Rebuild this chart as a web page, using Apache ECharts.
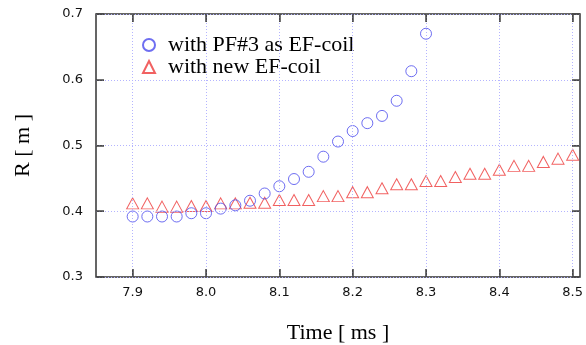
<!DOCTYPE html>
<html>
<head>
<meta charset="utf-8">
<script src="https://cdn.jsdelivr.net/npm/echarts@6/dist/echarts.min.js"></script>
<style>html,body{margin:0;padding:0;background:#fff;}#c{width:586px;height:345px;}</style>
</head>
<body>
<div id="c"></div>
<script>
const timesCircle = [7.90,7.92,7.94,7.96,7.98,8.00,8.02,8.04,8.06,8.08,8.10,8.12,8.14,8.16,8.18,8.20,8.22,8.24,8.26,8.28,8.30];
const rCircle = [0.392,0.392,0.392,0.392,0.397,0.397,0.404,0.409,0.416,0.427,0.438,0.449,0.460,0.483,0.506,0.522,0.534,0.545,0.568,0.613,0.670];
const timesTri = [7.90,7.92,7.94,7.96,7.98,8.00,8.02,8.04,8.06,8.08,8.10,8.12,8.14,8.16,8.18,8.20,8.22,8.24,8.26,8.28,8.30,8.32,8.34,8.36,8.38,8.40,8.42,8.44,8.46,8.48,8.50];
const rTri = [0.412,0.412,0.407,0.407,0.408,0.408,0.412,0.412,0.413,0.413,0.417,0.417,0.417,0.423,0.423,0.429,0.429,0.435,0.441,0.441,0.446,0.446,0.452,0.457,0.457,0.463,0.469,0.469,0.475,0.480,0.486];
const xTicks = [7.9,8.0,8.1,8.2,8.3,8.4,8.5];
const seriesNames = ['with PF#3 as EF-coil','with new EF-coil'];
const xTitle = 'Time [ ms ]';
const yTitle = 'R [ m ]';

const frame = '#444444';
const gridColor = 'rgb(180,180,255)';
const chart = echarts.init(document.getElementById('c'), null, {renderer:'canvas'});
function axTick(custom){ const t = {show:true, inside:true, length:8, lineStyle:{color:frame, width:1.5}}; if (custom) t.customValues = xTicks.slice(); return t; }
function plainTick(custom){ const t = {show:true, inside:true, length:8}; if (custom) t.customValues = xTicks.slice(); return t; }
function split(){ return {show:true, lineStyle:{color:gridColor, type:[1,2], width:1}}; }
const X = {min:7.85, max:8.51};
const Y = {min:0.3, max:0.7, interval:0.1};
function extraX(pos){ return {type:'value', min:X.min, max:X.max, position:pos, z:1, axisLine:{show:false}, axisTick:plainTick(true), axisLabel:{show:false, customValues:xTicks.slice()}, splitLine:{show:false}}; }
function extraY(pos){ return {type:'value', min:Y.min, max:Y.max, interval:Y.interval, position:pos, z:1, axisLine:{show:false}, axisTick:plainTick(false), axisLabel:{show:false}, splitLine:{show:false}}; }

chart.setOption({
  animation:false,
  backgroundColor:'#ffffff',
  grid:{left:96, right:6, top:14, bottom:68, containLabel:false, outerBoundsMode:'none',
        show:true, borderColor:'#333333', borderWidth:1.5, backgroundColor:'transparent'},
  legend:{
    orient:'vertical', left:137, top:29, itemWidth:12, itemHeight:12, itemGap:0,
    data:seriesNames,
    textStyle:{fontFamily:'Liberation Serif', fontSize:22, lineHeight:21, color:'#000000', padding:[0,0,0,8]}
  },
  xAxis:[
    {
      type:'value', min:X.min, max:X.max, position:'bottom', z:5,
      axisLine:{show:false}, axisTick:axTick(true),
      name:xTitle, nameLocation:'middle', nameGap:45,
      nameTextStyle:{fontFamily:'Liberation Serif', fontSize:22, color:'#000000'},
      axisLabel:{show:true, customValues:xTicks.slice(), margin:9, fontFamily:'DejaVu Sans', fontSize:13, color:'#111111', formatter:v=>v.toFixed(1)},
      splitLine:split()
    },
    {
      type:'value', min:X.min, max:X.max, position:'top', z:5,
      axisLine:{show:false}, axisTick:axTick(true), axisLabel:{show:false, customValues:xTicks.slice()}, splitLine:{show:false}
    },
    extraX('bottom'),
    extraX('top')
  ],
  yAxis:[
    {
      type:'value', min:Y.min, max:Y.max, interval:Y.interval, position:'left', z:5,
      axisLine:{show:false}, axisTick:axTick(false),
      name:yTitle, nameLocation:'middle', nameGap:62,
      nameTextStyle:{fontFamily:'Liberation Serif', fontSize:22, color:'#000000'},
      axisLabel:{show:true, margin:13, fontFamily:'DejaVu Sans', fontSize:13, color:'#111111', formatter:v=>v.toFixed(1)},
      splitLine:split()
    },
    {
      type:'value', min:Y.min, max:Y.max, interval:Y.interval, position:'right', z:5,
      axisLine:{show:false}, axisTick:axTick(false), axisLabel:{show:false}, splitLine:{show:false}
    },
    extraY('left'),
    extraY('right')
  ],
  series:[
    {
      name:seriesNames[0], type:'scatter', symbol:'circle', symbolSize:11,
      itemStyle:{color:'rgba(0,0,0,0)', borderColor:'#4a4aee', borderWidth:1},
      data:timesCircle.map((t,i)=>[t,rCircle[i]]), z:3
    },
    {
      name:seriesNames[1], type:'scatter', symbol:'triangle', symbolSize:[12,11],
      itemStyle:{color:'rgba(0,0,0,0)', borderColor:'#ee3a3a', borderWidth:1},
      data:timesTri.map((t,i)=>[t,rTri[i]]), z:2
    }
  ]
});
</script>
</body>
</html>
